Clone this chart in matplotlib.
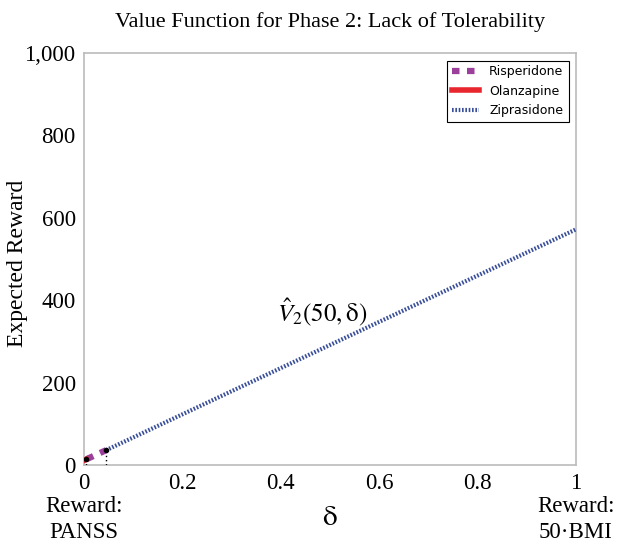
import numpy as np
import matplotlib
matplotlib.use("Agg")
import matplotlib.pyplot as plt

### data
risperidone_x = [0.005, 0.045]
risperidone_y = [14, 36]
olanzapine_x = [0.0, 0.005]
olanzapine_y = [11, 14]
ziprasidone_x = [0.045, 1.0]
ziprasidone_y = [36, 572]
switch_points = [0.005, 0.045]
switch_values = [14, 36]

xticks = [0, 0.2, 0.4, 0.6, 0.8, 1]
xticklabels = ["0", "0.2", "0.4", "0.6", "0.8", "1"]
yticks = [0, 200, 400, 600, 800, 1000]
yticklabels = ["0", "200", "400", "600", "800", "1,000"]

plt.rcParams["font.family"] = ["Liberation Serif", "DejaVu Serif"]
plt.rcParams["mathtext.fontset"] = "stix"

fig = plt.figure(figsize=(6.18, 5.49), dpi=100)
ax = fig.add_axes([84 / 618, 84 / 549, 492 / 618, 412 / 549])

ax.plot(ziprasidone_x, ziprasidone_y, color="#3a4f9a", lw=3, linestyle=(0, (0.4, 0.4)),
        label="Ziprasidone", zorder=3)
ax.plot(risperidone_x, risperidone_y, color="#9b3f9b", lw=4.5, linestyle=(0, (1.2, 1.2)),
        label="Risperidone", zorder=4)
ax.plot(olanzapine_x, olanzapine_y, color="#e8262e", lw=4, label="Olanzapine", zorder=5)

for sx, sy in zip(switch_points, switch_values):
    ax.plot([sx, sx], [0, sy], color="black", lw=1, linestyle=(0, (1, 2)), zorder=6)
    ax.plot(sx, sy, marker="o", color="black", ms=3, zorder=6)

ax.set_xlim(0, 1)
ax.set_ylim(0, 1000)
ax.set_xticks(xticks)
ax.set_xticklabels(xticklabels)
ax.set_yticks(yticks)
ax.set_yticklabels(yticklabels)
ax.tick_params(length=0, labelsize=16.5, pad=6)
for s in ax.spines.values():
    s.set_color("#bbbbbb")
    s.set_linewidth(1.2)

ax.set_ylabel("Expected Reward", fontsize=17)
ax.yaxis.set_label_coords(-0.113, 0.49)
ax.set_xlabel(r"$\mathrm{\delta}$", fontsize=21, labelpad=8)
ax.set_title("Value Function for Phase 2: Lack of Tolerability", fontsize=16, pad=19)

ax.text(0.485, 372, r"$\hat{V}_2(50, \mathrm{\delta})$", fontsize=18, ha="center", va="center")

ax.text(0.0, -0.076, "Reward:\nPANSS", transform=ax.transAxes, fontsize=16.5,
        ha="center", va="top", linespacing=1.3)
ax.text(1.0, -0.076, "Reward:\n50\u00b7BMI", transform=ax.transAxes, fontsize=16.5,
        ha="center", va="top", linespacing=1.3)

handles, labels = ax.get_legend_handles_labels()
order = [labels.index(n) for n in ["Risperidone", "Olanzapine", "Ziprasidone"]]
leg = ax.legend([handles[i] for i in order], [labels[i] for i in order],
                loc="upper right", prop={"family": "DejaVu Sans", "size": 9},
                fancybox=False, edgecolor="black", handlelength=2.2,
                borderaxespad=0.6, framealpha=1)
leg.get_frame().set_linewidth(0.8)

fig.savefig("out.png", dpi=100)
